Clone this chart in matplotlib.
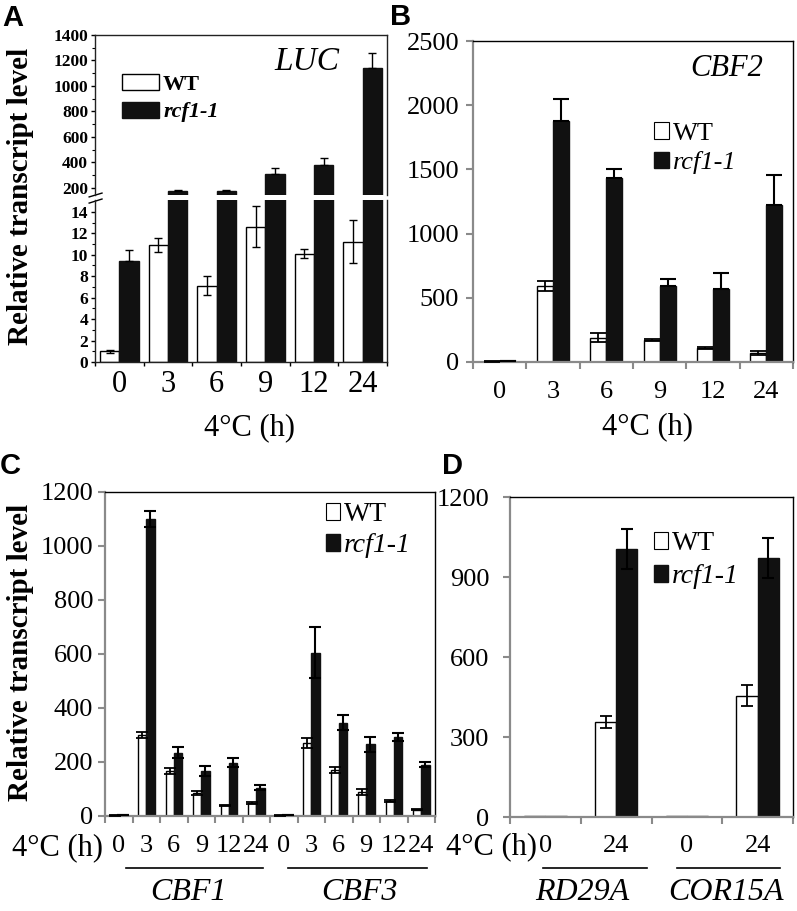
import matplotlib
matplotlib.use('Agg')
import matplotlib.pyplot as plt
import numpy as np
from matplotlib.patches import Patch
from matplotlib.transforms import blended_transform_factory

plt.rcParams['font.family'] = 'Liberation Serif'

# ---- data ----
hours = ['0', '3', '6', '9', '12', '24']

# A: LUC
luc_wt = [1.0, 10.9, 7.1, 12.6, 10.1, 11.2]
luc_wt_err = [0.15, 0.65, 0.9, 1.9, 0.4, 2.0]
luc_mut = [9.4, 175, 180, 310, 378, 1140]
luc_mut_err = [1.0, 10, 6, 45, 55, 120]

# B: CBF2
cbf2_wt = [4, 590, 190, 170, 110, 70]
cbf2_wt_err = [2, 40, 38, 8, 5, 15]
cbf2_mut = [8, 1875, 1435, 590, 565, 1225]
cbf2_mut_err = [2, 170, 65, 55, 125, 235]

# C: CBF1 and CBF3
cbf1_wt = [2, 300, 166, 84, 39, 49]
cbf1_wt_err = [1, 12, 10, 8, 3, 3]
cbf1_mut = [3, 1100, 235, 168, 198, 105]
cbf1_mut_err = [1, 30, 22, 18, 15, 8]
cbf3_wt = [2, 270, 170, 89, 55, 24]
cbf3_wt_err = [1, 18, 12, 10, 3, 3]
cbf3_mut = [3, 605, 345, 265, 293, 190]
cbf3_mut_err = [1, 95, 28, 27, 15, 10]
c_genes = ['CBF1', 'CBF3']
c_line_spans = [(0.25, 5.25), (6.15, 11.2)]
c_label_x = [2.55, 8.75]

# D: RD29A and COR15A
d_hours = ['0', '24', '0', '24']
d_wt = [2, 357, 2, 455]
d_wt_err = [0, 22, 0, 40]
d_mut = [2, 1005, 2, 970]
d_mut_err = [0, 75, 0, 75]
d_genes = ['RD29A', 'COR15A']
d_line_spans = [(-0.03, 1.44), (1.86, 3.32)]
d_label_x = [0.52, 2.55]

W, H = 797, 911
fig = plt.figure(figsize=(W / 100, H / 100), dpi=100)


def box(l, t, r, b):
    return [l / W, 1 - b / H, (r - l) / W, (b - t) / H]


def ftext(x, y, s, **kw):
    return fig.text(x / W, 1 - y / H, s, **kw)


GRAY = '#8a8a8a'
BLACK = '#111111'
SERIF = 'Liberation Serif'


def excel_axes(ax, n, ymax, ystep, pad_y, pad_x, labels):
    ax.set_xlim(-0.5, n - 0.5)
    ax.set_ylim(0, ymax)
    ax.set_yticks(np.arange(0, ymax + 1, ystep))
    ax.set_xticks(np.arange(n + 1) - 0.5)
    ax.set_xticklabels([])
    ax.set_xticks(np.arange(n), minor=True)
    ax.set_xticklabels(labels, minor=True)
    ax.tick_params(axis='x', which='major', direction='out', length=5,
                   width=1.5, color=GRAY)
    ax.tick_params(axis='x', which='minor', length=0, pad=pad_x, labelsize=19)
    ax.tick_params(axis='y', direction='out', length=5, width=1.5,
                   color=GRAY, pad=pad_y, labelsize=19)
    for s in ['left', 'bottom']:
        ax.spines[s].set_color(GRAY)
        ax.spines[s].set_linewidth(1.6)
    for s in ['top', 'right']:
        ax.spines[s].set_color('black')
        ax.spines[s].set_linewidth(1.0)


def pair_bars(ax, wt, wt_err, mut, mut_err, off, w, cap, mut_sym):
    x = np.arange(len(wt))
    ax.bar(x - off, wt, w, color='white', edgecolor='black', lw=1.0, zorder=2)
    ax.bar(x + off, mut, w, color=BLACK, edgecolor=BLACK, lw=1.0, zorder=2)
    wt_err = np.array(wt_err, float)
    mut_err = np.array(mut_err, float)
    m = wt_err > 0
    ax.errorbar((x - off)[m], np.array(wt)[m], yerr=wt_err[m], fmt='none',
                ecolor='black', elinewidth=1.3, capsize=cap, capthick=1.3, zorder=3)
    m = mut_err > 0
    if mut_sym:
        yerr = mut_err[m]
    else:
        yerr = [np.zeros(m.sum()), mut_err[m]]
    ax.errorbar((x + off)[m], np.array(mut)[m], yerr=yerr, fmt='none',
                ecolor='black', elinewidth=1.5, capsize=cap, capthick=1.5, zorder=3)


# ---- Panel A ----
axAt = fig.add_axes(box(95, 35, 387, 195))
axAb = fig.add_axes(box(95, 200, 387, 362))
xa = np.arange(6)
for ax in (axAt, axAb):
    ax.bar(xa - 0.2, luc_wt, 0.4, color='white', edgecolor='black', lw=1.0)
    ax.bar(xa + 0.2, luc_mut, 0.4, color=BLACK, edgecolor=BLACK, lw=1.0)
    ax.errorbar(xa - 0.2, luc_wt, yerr=luc_wt_err, fmt='none', ecolor='black',
                elinewidth=1.0, capsize=3, capthick=1.0)
    ax.errorbar(xa + 0.2, luc_mut, yerr=[np.zeros(6), luc_mut_err], fmt='none',
                ecolor='black', elinewidth=1.0, capsize=3, capthick=1.0)
    ax.set_xlim(-0.5, 5.5)
    for s in ax.spines.values():
        s.set_color('#222222')
        s.set_linewidth(1.0)
    ax.tick_params(axis='y', which='major', direction='out', length=3, width=1.0,
                   pad=2)
    ax.tick_params(axis='y', which='minor', direction='out', length=2, width=0.8)

axAt.set_ylim(145, 1400)
axAt.set_yticks(np.arange(200, 1401, 200))
axAt.set_yticklabels([str(v) for v in range(200, 1401, 200)],
                     fontweight='bold', fontsize=12.5)
axAt.set_yticks(np.arange(300, 1400, 200), minor=True)
axAt.spines['bottom'].set_visible(False)
axAt.set_xticks([])

axAb.set_ylim(0, 15.1)
axAb.set_yticks(np.arange(0, 15, 2))
axAb.set_yticklabels([str(v) for v in range(0, 15, 2)],
                     fontweight='bold', fontsize=12.5)
axAb.set_yticks(np.arange(1, 15, 2), minor=True)
axAb.spines['top'].set_visible(False)
axAb.set_xticks(np.arange(7) - 0.5)
axAb.set_xticklabels([])
axAb.set_xticks(xa, minor=True)
axAb.set_xticklabels(hours, minor=True)
axAb.tick_params(axis='x', which='major', direction='out', length=3, width=1.0)
axAb.tick_params(axis='x', which='minor', length=0, pad=6, labelsize=22)

# break marks
kw = dict(color='black', lw=1.0, clip_on=False)
axAt.plot([-0.02, 0.024], [-0.012, 0.012], transform=axAt.transAxes, **kw)
axAb.plot([-0.02, 0.024], [0.981, 1.006], transform=axAb.transAxes, **kw)

ftext(307, 62, 'LUC', fontsize=24, style='italic', family=SERIF,
      ha='center', va='center')
legA = fig.legend(handles=[Patch(facecolor='white', edgecolor='black', lw=1.0),
                           Patch(facecolor=BLACK, edgecolor=BLACK)],
                  labels=['WT', 'rcf1-1'], loc='upper left',
                  bbox_to_anchor=(122 / W, 1 - 74 / H), frameon=False,
                  fontsize=16, handlelength=1.65, handleheight=0.75,
                  handletextpad=0.2, labelspacing=0.3, borderpad=0,
                  borderaxespad=0)
for t in legA.get_texts():
    t.set_fontweight('bold')
legA.get_texts()[1].set_style('italic')

ftext(21, 196, 'Relative transcript level', rotation=90, fontsize=21,
      fontweight='bold', ha='center', va='center')
ftext(249, 428, '4°C (h)', fontsize=22, ha='center', va='center')

# ---- Panel B ----
axB = fig.add_axes(box(473, 41, 793, 362))
excel_axes(axB, 6, 2500, 500, 5, 14, hours)
pair_bars(axB, cbf2_wt, cbf2_wt_err, cbf2_mut, cbf2_mut_err, 0.15, 0.3, 5.5, False)
ftext(727, 68, 'CBF2', fontsize=22, style='italic', family=SERIF,
      ha='center', va='center')
ftext(647, 427, '4°C (h)', fontsize=22, ha='center', va='center')


def small_legend(x, y, size, hl, spacing):
    leg = fig.legend(handles=[Patch(facecolor='white', edgecolor='black', lw=0.8),
                              Patch(facecolor=BLACK, edgecolor=BLACK)],
                     labels=['WT', 'rcf1-1'], loc='upper left',
                     bbox_to_anchor=(x / W, 1 - y / H), frameon=False,
                     fontsize=size, handlelength=hl, handleheight=hl + 0.05,
                     handletextpad=0.15, labelspacing=spacing, borderpad=0,
                     borderaxespad=0)
    leg.get_texts()[1].set_style('italic')
    return leg


small_legend(654, 122, 19, 0.55, 0.25)

# ---- Panel C ----
axC = fig.add_axes(box(105, 492, 435, 816))
excel_axes(axC, 12, 1200, 200, 3.5, 14, hours + hours)
pair_bars(axC, cbf1_wt + cbf3_wt, cbf1_wt_err + cbf3_wt_err,
          cbf1_mut + cbf3_mut, cbf1_mut_err + cbf3_mut_err, 0.15, 0.3, 4.3, True)
small_legend(326, 502, 20, 0.5, 0.22)
ftext(21, 652, 'Relative transcript level', rotation=90, fontsize=21,
      fontweight='bold', ha='center', va='center')
ftext(103, 848, '4°C (h)', fontsize=22, ha='right', va='center')
trC = blended_transform_factory(axC.transData, fig.transFigure)
for g, (x0, x1), xc in zip(c_genes, c_line_spans, c_label_x):
    axC.plot([x0, x1], [1 - 868 / H] * 2, color='black', lw=1.2,
             transform=trC, clip_on=False)
    axC.text(xc, 1 - 893 / H, g, transform=trC, fontsize=23, style='italic',
             family=SERIF, ha='center', va='center')

# ---- Panel D ----
axD = fig.add_axes(box(510, 497, 793, 817))
excel_axes(axD, 4, 1200, 300, 10, 13, d_hours)
pair_bars(axD, d_wt, d_wt_err, d_mut, d_mut_err, 0.15, 0.3, 4.5, True)
small_legend(654, 531, 20, 0.5, 0.3)
ftext(537, 847, '4°C (h)', fontsize=22, ha='right', va='center')
trD = blended_transform_factory(axD.transData, fig.transFigure)
for g, (x0, x1), xc in zip(d_genes, d_line_spans, d_label_x):
    axD.plot([x0, x1], [1 - 868 / H] * 2, color='black', lw=1.2,
             transform=trD, clip_on=False)
    axD.text(xc, 1 - 893 / H, g, transform=trD, fontsize=23, style='italic',
             family=SERIF, ha='center', va='center')

# panel letters
for lab, px, py in [('A', 2, 4), ('B', 390, 3), ('C', 0, 452), ('D', 442, 452)]:
    ftext(px, py, lab, fontsize=21, fontweight='bold', family='Liberation Sans',
          ha='left', va='top')

fig.savefig('out.png', dpi=100)
